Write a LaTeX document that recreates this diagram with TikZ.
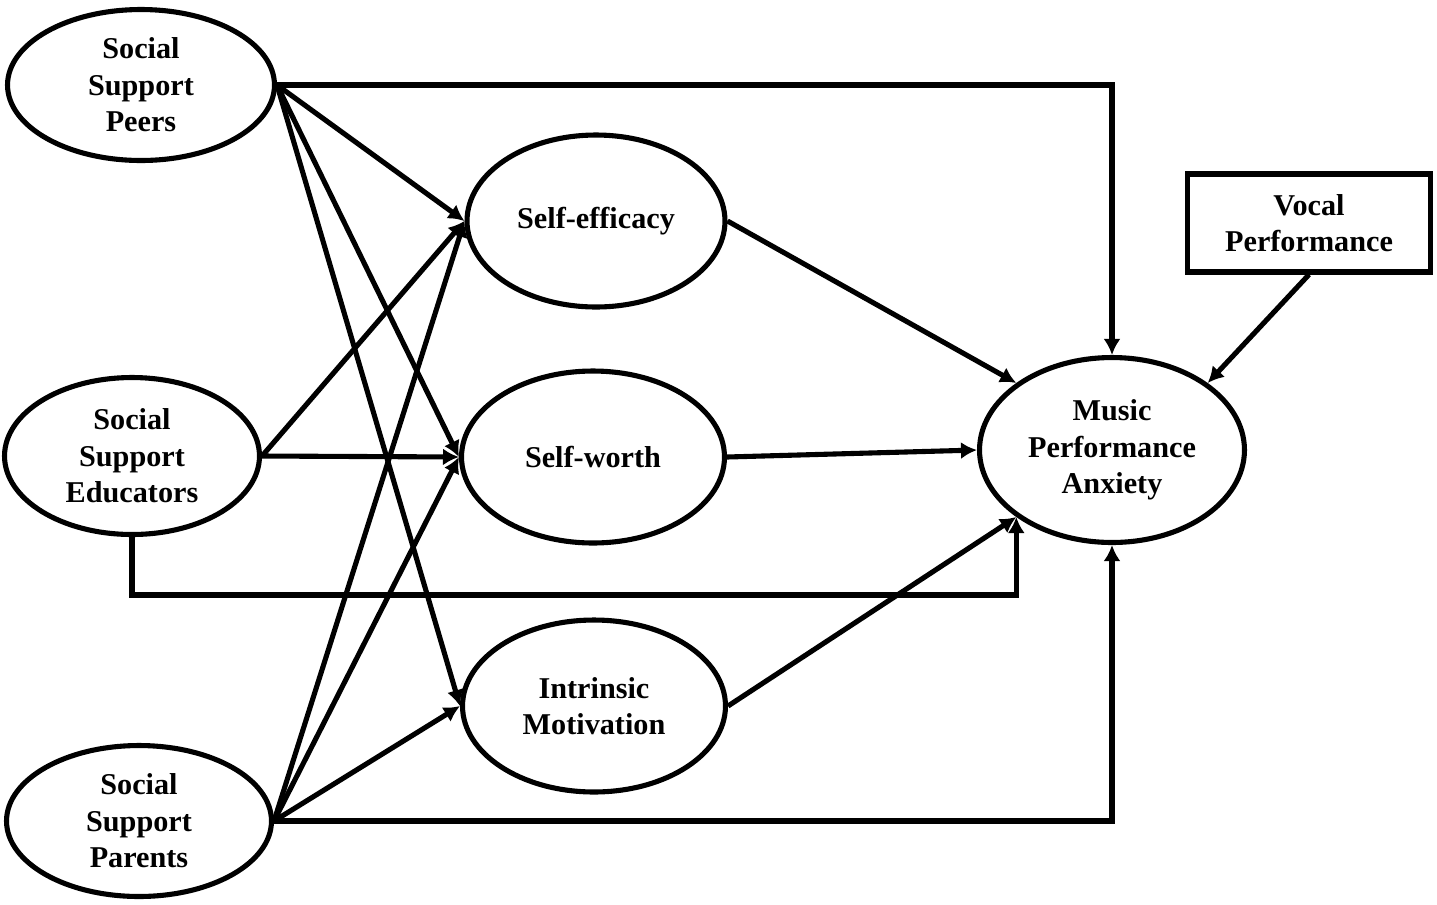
\documentclass[tikz,border=0pt]{standalone}
\usepackage{fontspec}
\setmainfont{Liberation Serif}
\usepackage{tikz}
\usetikzlibrary{arrows.meta,positioning,shapes.geometric}

\begin{document}
\begin{tikzpicture}[
	x = 0.02cm, y = -0.02cm, % one unit per pixel of the layout
	> = {Latex[length=0.32cm,width=0.34cm]}, % arrow head style
	line width = 2.9pt, % line style
	L/.style={ellipse, draw=black, inner sep=0pt, align=center, font=\bfseries\fontsize{17.2}{20.8}\selectfont},  %latent
	M/.style={rectangle, draw=black, inner sep=0pt, align=center, font=\bfseries\fontsize{17.2}{20.8}\selectfont}, %observed
	]
	\useasboundingbox (0,0) rectangle (1437,904);

	% Nodes and their positions
	\node[L, minimum width=5.34cm, minimum height=3.02cm] (Peer) at (141,85)  {Social\\Support\\Peers};
	\node[L, minimum width=5.10cm, minimum height=3.14cm] (Edu)  at (132,456) {Social\\Support\\Educators};
	\node[L, minimum width=5.30cm, minimum height=3.02cm] (Par)  at (139,821) {Social\\Support\\Parents};

	\node[L, minimum width=5.16cm, minimum height=3.44cm] (SE) at (596,221) {Self-efficacy};
	\node[L, minimum width=5.26cm, minimum height=3.44cm] (SW) at (593,457) {Self-worth};
	\node[L, minimum width=5.26cm, minimum height=3.44cm] (IM) at (594,706) {Intrinsic\\Motivation};

	\node[L, minimum width=5.30cm, minimum height=3.70cm] (MPA) at (1112,450) {Music\\Performance\\Anxiety};
	\node[M, minimum width=4.86cm, minimum height=1.96cm] (VP)  at (1309,223) {Vocal\\Performance};

	% Paths connecting nodes
	\path[->] (Peer.east) edge (SE.west);
	\path[->] (Peer.east) edge (SW.west);
	\path[->] (Peer.east) edge (IM.west);
	\draw[->] (Peer.east) -| (MPA.north);

	\path[->] (Edu.east) edge (SE.west);
	\path[->] (Edu.east) edge (SW.west);
	\draw[->] (Edu.south) -- ++(0,58) -| (MPA.215);

	\path[->] (Par.east) edge (SE.west);
	\path[->] (Par.east) edge (SW.west);
	\path[->] (Par.east) edge (IM.west);
	\draw[->] (Par.east) -| (MPA.south);

	\path[->] (SE.east) edge (MPA.145);
	\path[->] (SW.east) edge (MPA.west);
	\path[->] (IM.east) edge (MPA.215);
	\path[->] (VP.south) edge (MPA.35);

\end{tikzpicture}
\end{document}
